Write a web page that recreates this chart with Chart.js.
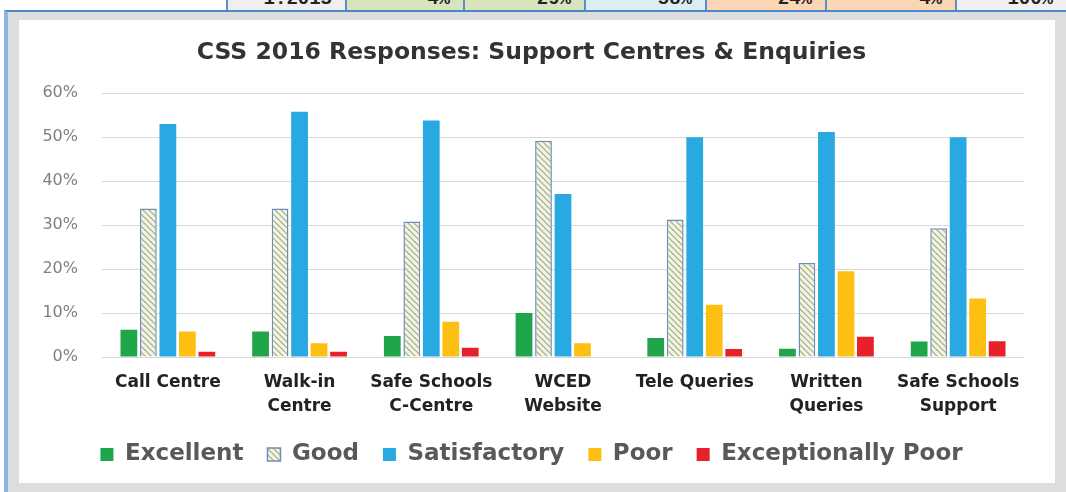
<!DOCTYPE html>
<html>
<head>
<meta charset="utf-8">
<script src="https://cdn.jsdelivr.net/npm/chart.js@4.4.0/dist/chart.umd.min.js"></script>
<style>
  body { margin: 0; width: 1066px; height: 492px; overflow: hidden; background: #fff; position: relative; }
  #strip { position: absolute; left: 0; top: 0; width: 1066px; height: 10px; overflow: hidden; }
  .cell { position: absolute; top: 0; height: 10px; overflow: hidden; box-sizing: border-box;
          border-left: 2px solid #5b8ed0; font: bold 19px "Liberation Mono", monospace; color: #222;
          text-align: right; padding-right: 13px; line-height: 0px; }
  .cell span { position: relative; top: -1px; }
  #frame { position: absolute; left: 4px; top: 10px; width: 1062px; height: 482px; background: #dcdddf;
           border-top: 2px solid #4f86c6; border-left: 4px solid #8fb4e3; box-sizing: border-box; }
  #panel { position: absolute; left: 19px; top: 20px; width: 1036px; height: 463px; background: #fff; }
  #grafico { display: block; }
</style>
</head>
<body>
<div id="strip"></div>
<div id="frame"></div>
<div id="panel"><canvas id="grafico" width="1036" height="463"></canvas></div>
<script>
// tabela cortada no topo
const celulasX = [226, 345, 463, 584, 705, 825, 955, 1066];
const celulasTexto = ["1.2013", "4%", "29%", "58%", "24%", "4%", "100%"];
const celulasCor = ["#efefef", "#d8e4bc", "#d8e4bc", "#daeef3", "#fcd5b4", "#fcd5b4", "#f0f0f0"];

const categorias = [
    "Call Centre",
    ["Walk-in", "Centre"],
    ["Safe Schools", "C-Centre"],
    ["WCED", "Website"],
    "Tele Queries",
    ["Written", "Queries"],
    ["Safe Schools", "Support"]
];
const excelente = [6.2, 5.8, 4.8, 10.0, 4.3, 1.9, 3.5];
const bom = [33.8, 33.8, 30.8, 49.2, 31.3, 21.4, 29.3];
const satisfatorio = [53.0, 55.8, 53.8, 37.1, 50.0, 51.2, 50.0];
const fraco = [5.8, 3.1, 8.0, 3.1, 11.9, 19.5, 13.3];
const muitoFraco = [1.2, 1.2, 2.1, 0, 1.8, 4.6, 3.6];
const ticksY = [0, 10, 20, 30, 40, 50, 60];

const strip = document.getElementById("strip");
celulasTexto.forEach((t, i) => {
    const d = document.createElement("div");
    d.className = "cell";
    d.style.left = celulasX[i] + "px";
    d.style.width = (celulasX[i + 1] - celulasX[i]) + "px";
    d.style.background = celulasCor[i];
    d.innerHTML = "<span>" + t + "</span>";
    strip.appendChild(d);
});

function hachura() {
    const c = document.createElement("canvas");
    c.width = 6; c.height = 6;
    const g = c.getContext("2d");
    g.fillStyle = "#f3f6dc";
    g.fillRect(0, 0, 6, 6);
    g.strokeStyle = "#9ea89a";
    g.lineWidth = 1.2;
    g.beginPath();
    g.moveTo(-1, -1); g.lineTo(7, 7);
    g.moveTo(-4, 2); g.lineTo(4, 10);
    g.moveTo(2, -4); g.lineTo(10, 4);
    g.stroke();
    return g.createPattern(c, "repeat");
}

const fonte = "'DejaVu Sans', 'Open Sans', sans-serif";
const ctx = document.getElementById("grafico").getContext("2d");

new Chart(ctx, {
    type: "bar",
    data: {
        labels: categorias,
        datasets: [
            { label: "Excellent", data: excelente, backgroundColor: "#1fa64a", borderWidth: 0 },
            { label: "Good", data: bom, backgroundColor: hachura(), borderColor: "#6f8cb8", borderWidth: 1.5 },
            { label: "Satisfactory", data: satisfatorio, backgroundColor: "#29a9e1", borderWidth: 0 },
            { label: "Poor", data: fraco, backgroundColor: "#fdbf12", borderWidth: 0 },
            { label: "Exceptionally Poor", data: muitoFraco, backgroundColor: "#e8202a", borderWidth: 0 }
        ]
    },
    options: {
        responsive: false,
        animation: false,
        devicePixelRatio: 1,
        layout: { padding: { left: 20, right: 31, top: 0, bottom: 7 } },
        datasets: { bar: { categoryPercentage: 0.74, barPercentage: 0.86 } },
        plugins: {
            title: {
                display: true,
                text: "CSS 2016 Responses: Support Centres & Enquiries",
                color: "#333",
                font: { family: fonte, size: 23.5, weight: "bold" },
                padding: { top: 19, bottom: 26 }
            },
            legend: {
                position: "bottom",
                labels: {
                    color: "#595959",
                    font: { family: fonte, size: 23, weight: "bold" },
                    boxWidth: 13,
                    boxHeight: 13,
                    padding: 24
                }
            },
            tooltip: { enabled: false }
        },
        scales: {
            x: {
                grid: { display: false },
                border: { display: false },
                ticks: {
                    color: "#222",
                    font: { family: fonte, size: 17, weight: "bold", lineHeight: 1.4 },
                    padding: 6,
                    maxRotation: 0,
                    autoSkip: false
                },
                afterFit: s => { s.height = 62; }
            },
            y: {
                min: 0,
                max: 60,
                afterBuildTicks: s => { s.ticks = ticksY.map(v => ({ value: v })); },
                grid: { color: "#d9d9d9", lineWidth: 1, drawTicks: false },
                border: { display: false },
                ticks: {
                    color: "#808080",
                    font: { family: fonte, size: 16 },
                    padding: 24,
                    callback: v => v + "%"
                },
                afterFit: s => { s.width = 63; }
            }
        }
    }
});
</script>
</body>
</html>
